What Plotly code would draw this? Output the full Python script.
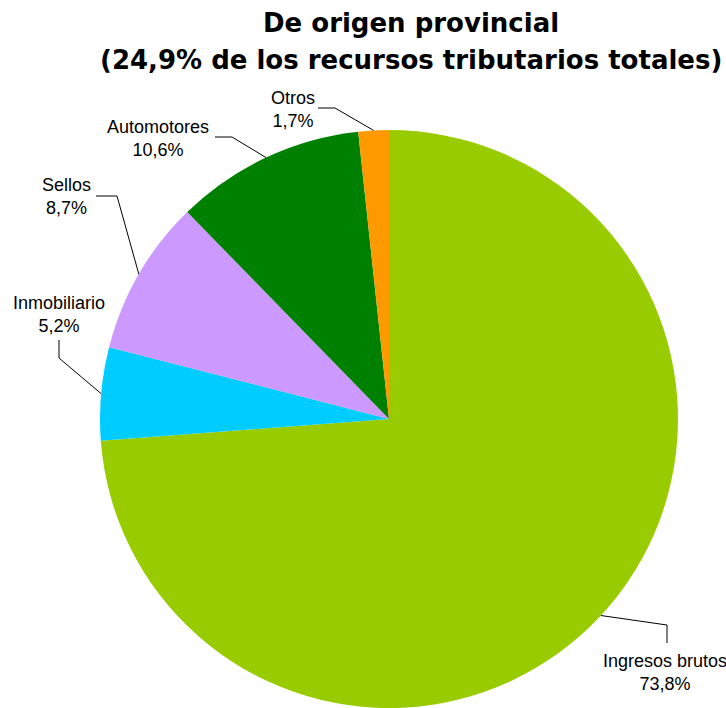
import math
import plotly.graph_objects as go

# ---- data ----
categories = ["Ingresos brutos", "Inmobiliario", "Sellos", "Automotores", "Otros"]
shares = [73.8, 5.2, 8.7, 10.6, 1.7]
pct_labels = ["73,8%", "5,2%", "8,7%", "10,6%", "1,7%"]
title_lines = ["De origen provincial", "(24,9% de los recursos tributarios totales)"]

# ---- style ----
colors = ["#99CC00", "#00CCFF", "#CC99FF", "#008000", "#FF9900"]
W, H = 726, 708
CX, CY, R = 389, 419, 289  # pie centre / radius in px
title_centres_y = [22.5, 60]  # px

# label placement (px): text block centre, leader elbow, leader end
label_style = {
    "Ingresos brutos": dict(text=(665, 672), elbow=(667, 625), end=(667, 643)),
    "Inmobiliario": dict(text=(59, 314), elbow=(59, 358), end=(59, 340)),
    "Sellos": dict(text=(66, 196), elbow=(117, 196), end=(96, 196)),
    "Automotores": dict(text=(158, 138), elbow=(232, 137), end=(215, 137)),
    "Otros": dict(text=(293, 110), elbow=(335, 108), end=(318, 108)),
}


def px(x, y):
    return x / W, 1 - y / H


fig = go.Figure(
    go.Pie(
        labels=categories,
        values=shares,
        marker=dict(colors=colors, line=dict(width=0)),
        sort=False,
        direction="clockwise",
        rotation=0,
        textinfo="none",
        hoverinfo="label+percent",
        showlegend=False,
        domain=dict(x=[(CX - R) / W, (CX + R) / W], y=[0, 2 * R / H]),
    )
)

shapes = []
annotations = []
total = sum(shares)
cum = 0.0
for cat, v, pl in zip(categories, shares, pct_labels):
    mid = (cum + v / 2) / total * 2 * math.pi
    cum += v
    ex = CX + R * math.sin(mid)
    ey = CY - R * math.cos(mid)
    st = label_style[cat]
    pts = [(ex, ey), st["elbow"], st["end"]]
    path = "M " + " L ".join(f"{px(a, b)[0]},{px(a, b)[1]}" for a, b in pts)
    shapes.append(dict(type="path", path=path, xref="paper", yref="paper",
                       line=dict(color="#000000", width=1)))
    tx, ty = px(*st["text"])
    annotations.append(dict(text=f"{cat}<br>{pl}", x=tx, y=ty, xref="paper", yref="paper",
                            xanchor="center", yanchor="middle", align="center", showarrow=False,
                            font=dict(family="Liberation Sans, Arial", size=18, color="#000000")))

for line, cy in zip(title_lines, title_centres_y):
    annotations.append(dict(text=line, x=411 / W, y=1 - cy / H,
                            xref="paper", yref="paper", xanchor="center", yanchor="middle",
                            align="center", showarrow=False,
                            font=dict(family="DejaVu Sans", size=26,
                                      color="#000000", weight="bold")))

fig.update_layout(
    width=W, height=H,
    margin=dict(l=0, r=0, t=0, b=0),
    paper_bgcolor="white", plot_bgcolor="white",
    shapes=shapes, annotations=annotations,
)

fig.write_html("out.html", config={"displayModeBar": False},
               post_script="document.body.style.margin='0';")
